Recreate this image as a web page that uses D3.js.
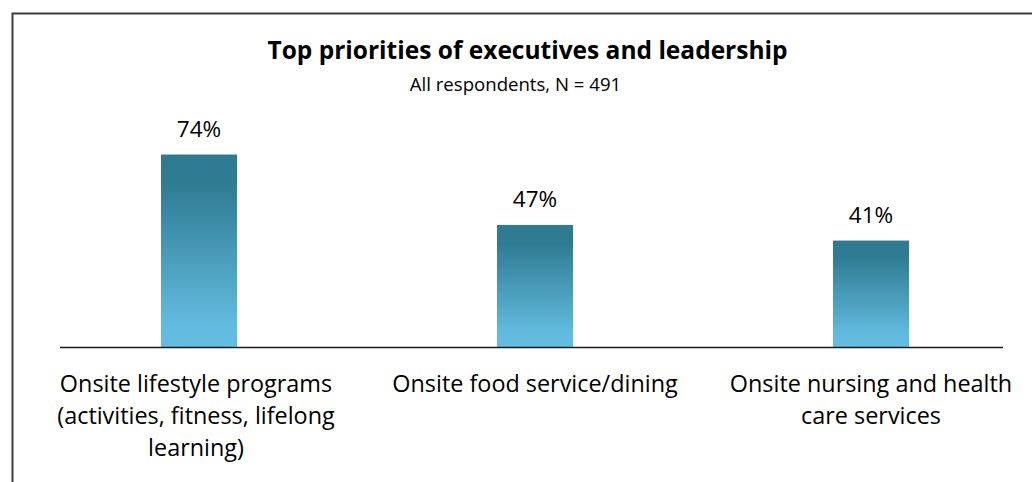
<!DOCTYPE html>
<html>
<head>
<meta charset="utf-8">
<script src="https://cdn.jsdelivr.net/npm/d3@7"></script>
<style>
  html, body { margin: 0; padding: 0; background: #ffffff; }
  svg { display: block; }
  text { font-family: "Open Sans", sans-serif; fill: #000; }
</style>
</head>
<body>
<svg id="chart" width="1032" height="482"></svg>
<script>
// Survey results: share of respondents naming each item a top priority
const categories = [
  "Onsite lifestyle programs (activities, fitness, lifelong learning)",
  "Onsite food service/dining",
  "Onsite nursing and health care services"
];
const categoryLines = [
  ["Onsite lifestyle programs", "(activities, fitness, lifelong", "learning)"],
  ["Onsite food service/dining"],
  ["Onsite nursing and health", "care services"]
];
const values = [74, 47, 41];
const valueLabels = ["74%", "47%", "41%"];
const titleText = "Top priorities of executives and leadership";
const subtitleText = "All respondents, N = 491";

const svg = d3.select("#chart");

// Frame around the chart area
svg.append("rect")
  .attr("x", 12.5).attr("y", 13.5)
  .attr("width", 1040).attr("height", 500)
  .attr("fill", "none")
  .attr("stroke", "#3c3c3c")
  .attr("stroke-width", 2);

// Bar gradient: dark teal at the top fading to light blue at the base
const defs = svg.append("defs");
const grad = defs.append("linearGradient")
  .attr("id", "barGrad")
  .attr("x1", 0).attr("y1", 0).attr("x2", 0).attr("y2", 1);
grad.append("stop").attr("offset", "0%").attr("stop-color", "#2f7a91");
grad.append("stop").attr("offset", "15%").attr("stop-color", "#2f7b92");
grad.append("stop").attr("offset", "88%").attr("stop-color", "#62bbde");
grad.append("stop").attr("offset", "100%").attr("stop-color", "#63bde1");

const baseline = 347.5;
const x = d3.scaleBand()
  .domain(categories)
  .range([31, 1039])
  .paddingInner(0.7738)
  .paddingOuter(0.3869);

const y = d3.scaleLinear()
  .domain([0, 100])
  .range([baseline, baseline - 260.8]);

// Title and subtitle
svg.append("text")
  .attr("x", 527.5).attr("y", 59)
  .attr("text-anchor", "middle")
  .style("font-weight", "bold")
  .style("font-size", "24.5px")
  .text(titleText);
svg.append("text")
  .attr("x", 515.5).attr("y", 91)
  .attr("text-anchor", "middle")
  .style("font-size", "18.6px")
  .text(subtitleText);

// Bars
svg.selectAll("rect.bar")
  .data(values)
  .join("rect")
  .attr("class", "bar")
  .attr("x", (d, i) => x(categories[i]))
  .attr("width", x.bandwidth())
  .attr("y", d => y(d))
  .attr("height", d => baseline - y(d))
  .attr("fill", "url(#barGrad)");

// Value labels above bars
svg.selectAll("text.val")
  .data(values)
  .join("text")
  .attr("class", "val")
  .attr("x", (d, i) => x(categories[i]) + x.bandwidth() / 2)
  .attr("y", d => y(d) - 18)
  .attr("text-anchor", "middle")
  .style("font-size", "22.5px")
  .text((d, i) => valueLabels[i]);

// Category axis line
svg.append("line")
  .attr("x1", 60).attr("x2", 1003)
  .attr("y1", baseline).attr("y2", baseline)
  .attr("stroke", "#1a1a1a")
  .attr("stroke-width", 1.5);

// Category labels under the axis
const catG = svg.selectAll("text.cat")
  .data(categories)
  .join("text")
  .attr("class", "cat")
  .attr("text-anchor", "middle")
  .style("font-size", "23.4px")
  .attr("transform", d => `translate(${x(d) + x.bandwidth() / 2 - (d === categories[0] ? 3 : 0)},392)`);
catG.selectAll("tspan")
  .data((d, i) => categoryLines[i])
  .join("tspan")
  .attr("x", 0)
  .attr("y", (d, j) => j * 32)
  .text(d => d);
</script>
</body>
</html>
